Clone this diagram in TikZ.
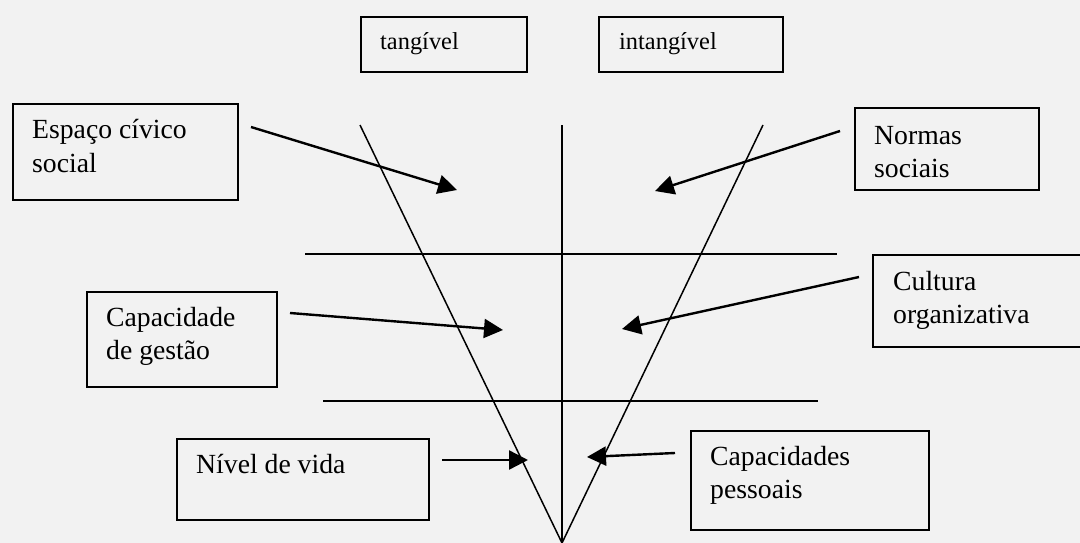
\documentclass[tikz,border=0pt]{standalone}
\usepackage{fontspec}
\setmainfont{Liberation Serif}
\usetikzlibrary{arrows.meta}
\definecolor{bgc}{RGB}{242,242,242}
\begin{document}
\begin{tikzpicture}[x=1pt,y=-1pt,
  box/.style={draw=black,line width=2pt,inner sep=0pt,anchor=north west},
  lbl/.style={anchor=base west,inner sep=0pt,font=\fontsize{27.7}{33}\selectfont},
  toplbl/.style={anchor=base west,inner sep=0pt,font=\fontsize{24.4}{29}\selectfont},
  axisline/.style={line width=1.5pt},
  arr/.style={line width=2.4pt,-{Triangle[length=19pt,width=19pt]}}]
\useasboundingbox (0,0) rectangle (1080,543);
\fill[bgc] (0,0) rectangle (1080,543);
\clip (0,0) rectangle (1080,543);

% boxes
\node[box,minimum width=166pt,minimum height=55pt] (tang) at (360,16) {};
\node[box,minimum width=184pt,minimum height=55pt] (intang) at (598,16) {};
\node[box,minimum width=225pt,minimum height=96pt] (esp) at (12,103) {};
\node[box,minimum width=184pt,minimum height=82pt] (norm) at (854,107) {};
\node[box,minimum width=240pt,minimum height=92pt] (cult) at (872,254) {};
\node[box,minimum width=190pt,minimum height=95pt] (capg) at (86,291) {};
\node[box,minimum width=252pt,minimum height=81pt] (niv) at (176,438) {};
\node[box,minimum width=238pt,minimum height=99pt] (capp) at (690,430) {};

% labels
\node[toplbl] (t1) at (380,50) {tangível};
\node[toplbl] (t2) at (619,50) {intangível};
\node[lbl] (e1) at (32,139) {Espaço cívico};
\node[lbl] (e2) at (32,172) {social};
\node[lbl] (n1) at (874,144) {Normas};
\node[lbl] (n2) at (874,177) {sociais};
\node[lbl] (c1) at (893,290) {Cultura};
\node[lbl] (c2) at (893,323) {organizativa};
\node[lbl] (g1) at (106,326) {Capacidade};
\node[lbl] (g2) at (106,359) {de gestão};
\node[lbl] (v1) at (196,473) {Nível de vida};
\node[lbl] (p1) at (710,465) {Capacidades};
\node[lbl] (p2) at (710,498) {pessoais};

% frame lines
\coordinate (ltop) at (360,125);
\coordinate (rtop) at (763,125);
\coordinate (ctop) at (562,125);
\coordinate (apex) at (562,543);
\coordinate (h1a) at (305,254);
\coordinate (h1b) at (837,254);
\coordinate (h2a) at (323,401);
\coordinate (h2b) at (818,401);
\draw[axisline] (ltop) -- (apex);
\draw[axisline] (rtop) -- (apex);
\draw[axisline] (ctop) -- (apex);
\draw[axisline] (h1a) -- (h1b);
\draw[axisline] (h2a) -- (h2b);

% arrows
\coordinate (ea) at (251,127);  \coordinate (eb) at (457,190);
\coordinate (na) at (840,131);  \coordinate (nb) at (655,191);
\coordinate (ca) at (859,277);  \coordinate (cb) at (622,329);
\coordinate (ga) at (290,313);  \coordinate (gb) at (503,330);
\coordinate (va) at (442,460);  \coordinate (vb) at (528,460);
\coordinate (pa) at (675,453);  \coordinate (pb) at (587,457);
\draw[arr] (ea) -- (eb);
\draw[arr] (na) -- (nb);
\draw[arr] (ca) -- (cb);
\draw[arr] (ga) -- (gb);
\draw[arr] (va) -- (vb);
\draw[arr] (pa) -- (pb);
\end{tikzpicture}
\end{document}
